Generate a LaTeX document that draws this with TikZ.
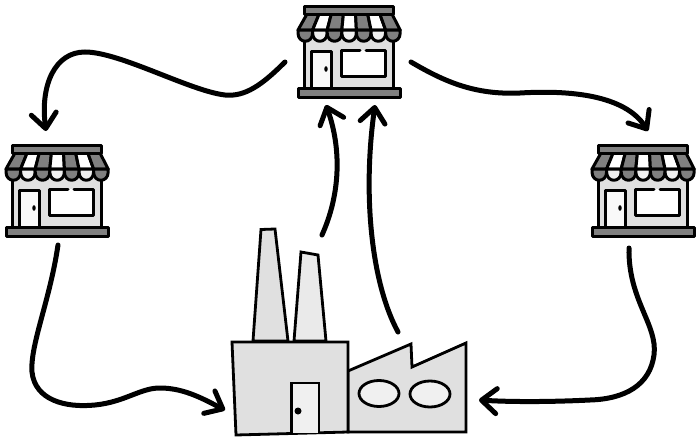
\documentclass[tikz,border=0pt]{standalone}
\usetikzlibrary{arrows.meta}
\definecolor{darkg}{gray}{0.5}
\definecolor{bodyg}{gray}{0.88}
\definecolor{lightg}{gray}{0.94}
\tikzset{
  x=1pt,y=-1pt,
  shopline/.style={draw=black,line width=3pt,line join=round,line cap=round},
  factline/.style={draw=black,line width=2.8pt,line join=miter},
  flow/.style={draw=black,line width=5pt,line cap=round,-{Straight Barb[length=15pt,width=25pt,line width=5pt,round]}},
  shop/.pic={
    \path[fill=bodyg] (303,30) rectangle (394,90);
    \draw[shopline] (304,40) -- (304,90) (393,40) -- (393,90);
    % door
    \draw[shopline,fill=white!60!lightg] (311,88) -- (311,51) -- (331,51) -- (331,88);
    \fill (326,69) ellipse (1.7 and 2.8);
    % window
    \draw[shopline,fill=white] (360,50) -- (341,50) -- (341,76) -- (385,76) -- (385,50) -- (366,50);
    % base
    \draw[shopline,fill=darkg] (298.5,88) rectangle (400.5,97);
    % awning stripes
    \foreach \i/\c in {0/darkg,1/white,2/darkg,3/white,4/darkg,5/white,6/darkg}{
      \pgfmathsetmacro{\ta}{307+\i*12.14}
      \pgfmathsetmacro{\tb}{\ta+12.14}
      \pgfmathsetmacro{\ba}{298+\i*14.6}
      \pgfmathsetmacro{\bb}{\ba+14.6}
      \draw[shopline,fill=\c] (\ta,14) -- (\tb,14) -- (\bb,30) -- (\ba,30) -- cycle;
    }
    % scallops
    \foreach \i/\c in {0/darkg,1/lightg,2/darkg,3/lightg,4/darkg,5/lightg,6/darkg}{
      \pgfmathsetmacro{\ba}{298+\i*14.6}
      \pgfmathsetmacro{\bb}{\ba+14.6}
      \draw[shopline,fill=\c] (\ba,30) -- (\bb,30) -- (\bb,33) .. controls (\bb,44) and (\ba,44) .. (\ba,33) -- cycle;
    }
    % top bar
    \draw[shopline,fill=darkg] (304.5,6) rectangle (393.5,14);
  }
}
\begin{document}
\begin{tikzpicture}
\useasboundingbox (0,0) rectangle (697,439);
\pic (shopT) at (0,0) {shop};
\pic (shopL) at (-292,139) {shop};
\pic (shopR) at (294,139) {shop};

% factory
\draw[factline,fill=bodyg] (253,341) -- (261,229.5) -- (275,229) -- (288,341) -- cycle;
\draw[factline,fill=bodyg!70!white] (294,341) -- (301,252) -- (318,255) -- (326,341) -- cycle;
\draw[factline,fill=bodyg] (348,371) -- (411,344) -- (412,367) -- (466,343) -- (466,432) -- (348,432) -- cycle;
\draw[factline,fill=bodyg] (232,342) -- (348,342) -- (348,432) -- (236,435) -- cycle;
\draw[factline,fill=lightg] (291.5,433) -- (291.5,383) -- (319,383) -- (319,433);
\fill (298,411) circle (3.5);
\draw[factline,fill=lightg] (379,393.5) ellipse (20 and 13);
\draw[factline,fill=lightg] (430,394) ellipse (20 and 13);

% connector ends
\coordinate (tl) at (285,62);
\coordinate (le) at (46,131);
\coordinate (tr) at (411,62);
\coordinate (re) at (648,131);
\coordinate (ls) at (58,245);
\coordinate (fl) at (225,410);
\coordinate (rs) at (629,248);
\coordinate (fr) at (479,400);
\coordinate (fa) at (322,235);
\coordinate (ta) at (326,105);
\coordinate (fb) at (398,332);
\coordinate (tb) at (375,105);

\draw[flow] (tl) .. controls (262,85) and (245,97) .. (225,95)
  .. controls (190,91) and (120,52) .. (85,52)
  .. controls (55,52) and (40,85) .. (le);
\draw[flow] (tr) .. controls (445,82) and (475,95) .. (520,93)
  .. controls (570,90) and (625,95) .. (re);
\draw[flow] (ls) .. controls (50,300) and (30,345) .. (32,372)
  .. controls (35,400) and (65,408) .. (95,405)
  .. controls (125,402) and (140,388) .. (160,388)
  .. controls (185,388) and (205,400) .. (fl);
\draw[flow] (rs) .. controls (628,300) and (658,325) .. (654,355)
  .. controls (650,385) and (625,399) .. (590,400)
  .. controls (550,402) and (510,402) .. (fr);
\draw[flow] (fa) .. controls (340,195) and (342,150) .. (ta);
\draw[flow] (fb) .. controls (370,280) and (363,190) .. (tb);
\end{tikzpicture}
\end{document}
